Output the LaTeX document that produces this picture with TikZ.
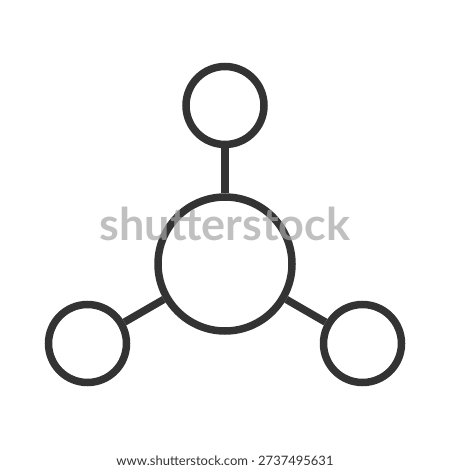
\documentclass[tikz,border=0pt]{standalone}
\usepackage{fontspec}
\setmainfont{Lato}
\begin{document}
\begin{tikzpicture}[x=1pt,y=-1pt,
  ring/.style={circle,draw=ink,line width=7.5pt,inner sep=0pt,fill=white},
  small/.style={ring,minimum size=78pt},
  big/.style={ring,minimum size=134pt},
  link/.style={draw=ink,line width=7.5pt}]
\definecolor{ink}{HTML}{333333}
\useasboundingbox[fill=white] (0,0) rectangle (450,470);
\node[big] (c) at (225,264) {};
\node[small] (t) at (225,105.5) {};
\node[small] (l) at (87.5,343.5) {};
\node[small] (r) at (362.5,343.5) {};
\draw[link] (t) -- (c);
\draw[link] (l) -- (c);
\draw[link] (r) -- (c);
\node[text=gray!70,opacity=0.7,font=\fontsize{45}{45}\selectfont\bfseries] (wm) at (225,224) {shutterstock};
\node[text=ink,font=\fontsize{13}{15}\selectfont] (cap) at (225,461) {www.shutterstock.com · 2737495631};
\end{tikzpicture}
\end{document}
